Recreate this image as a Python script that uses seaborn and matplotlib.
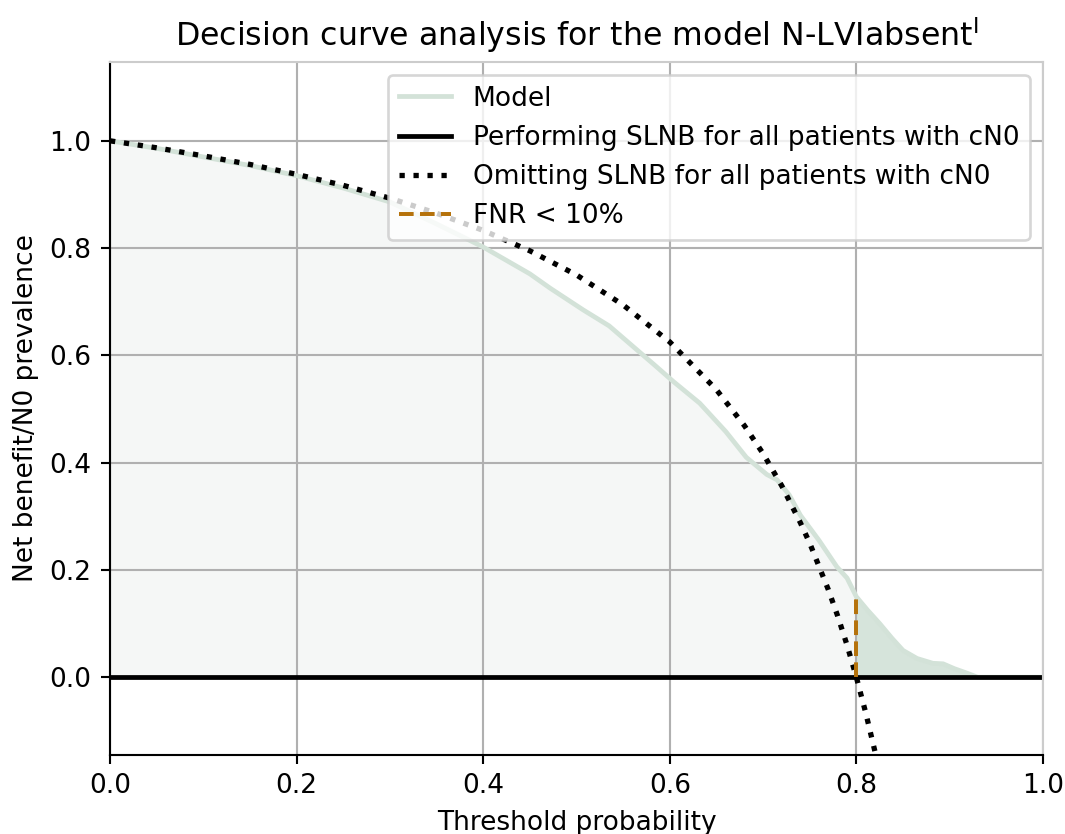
import numpy as np
import pandas as pd
import matplotlib.pyplot as plt
import seaborn as sns

# Data

threshold = [0.0, 0.05, 0.10, 0.15, 0.20, 0.25, 0.30, 0.35, 0.40, 0.45,
             0.472, 0.507, 0.535, 0.561, 0.585, 0.604, 0.632, 0.660, 0.682,
             0.704, 0.715, 0.728, 0.740, 0.760, 0.779, 0.790, 0.800, 0.812,
             0.825, 0.838, 0.850, 0.865, 0.882, 0.893, 0.905, 0.918, 0.930,
             1.0]
model_nb = [1.0, 0.986, 0.970, 0.954, 0.935, 0.912, 0.886, 0.845, 0.802,
            0.752, 0.725, 0.685, 0.655, 0.616, 0.580, 0.551, 0.511, 0.458,
            0.410, 0.378, 0.368, 0.340, 0.302, 0.255, 0.206, 0.185, 0.150,
            0.125, 0.100, 0.073, 0.050, 0.035, 0.026, 0.025, 0.016, 0.008,
            0.0, 0.0]

omit_x = [0.0, 0.05, 0.10, 0.15, 0.20, 0.25, 0.30, 0.35, 0.40, 0.45, 0.50,
          0.55, 0.60, 0.65, 0.68, 0.70, 0.72, 0.74, 0.75, 0.77, 0.78, 0.79,
          0.80, 0.81, 0.82, 0.83]
omit_nb = [1.0, 0.987, 0.972, 0.956, 0.9375, 0.917, 0.893, 0.865, 0.833,
           0.795, 0.75, 0.694, 0.625, 0.536, 0.469, 0.417, 0.357, 0.288,
           0.25, 0.163, 0.114, 0.060, 0.0, -0.066, -0.139, -0.22]

perform_x = [0.0, 1.0]
perform_nb = [0.0, 0.0]

fnr_x = [0.8, 0.8]
fnr_nb = [0.0, 0.147]

# Figure

fig = plt.figure(figsize=(1065 / 190, 834 / 190), dpi=190)
ax = fig.add_axes([0.1033, 0.0947, 0.876, 0.831])

df = pd.DataFrame({"x": threshold, "y": model_nb})
left = df[df["x"] <= 0.8]
right = df[df["x"] >= 0.8]
ax.fill_between(left["x"], left["y"], 0, color="#f5f7f6", linewidth=0)
ax.fill_between(right["x"], right["y"], 0, color="#d6e4db", linewidth=0)

sns.lineplot(x=threshold, y=model_nb, ax=ax, color="#d3e2d8",
             linewidth=1.8, label="Model", estimator=None)
sns.lineplot(x=perform_x, y=perform_nb, ax=ax, color="black",
             linewidth=1.8, label="Performing SLNB for all patients with cN0",
             estimator=None)
sns.lineplot(x=omit_x, y=omit_nb, ax=ax, color="black", linestyle=":",
             linewidth=2.0, label="Omitting SLNB for all patients with cN0",
             estimator=None)
sns.lineplot(x=fnr_x, y=fnr_nb, ax=ax, color="#b5720b", linestyle="--",
             linewidth=1.5, label="FNR < 10%", estimator=None, sort=False)

ax.set_xlim(0, 1)
ax.set_ylim(-0.145, 1.147)
ax.set_xticks(np.arange(0, 1.01, 0.2))
ax.set_yticks(np.arange(0, 1.01, 0.2))
ax.grid(True, color="#b0b0b0", linewidth=0.8)
for side in ["top", "right"]:
    ax.spines[side].set_color("#cccccc")

ax.set_xlabel("Threshold probability", fontsize=10)
ax.set_ylabel("Net benefit/N0 prevalence", fontsize=10)
ax.set_title(r"Decision curve analysis for the model N-LVIabsent$^{\mathsf{I}}$",
             fontsize=12)
ax.legend(loc="upper right", fontsize=10)

plt.savefig("out.png", dpi=190)
